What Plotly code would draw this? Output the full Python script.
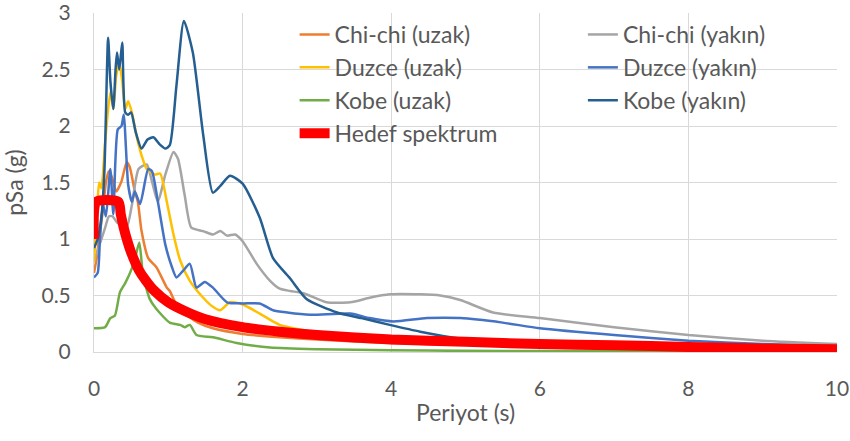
import plotly.graph_objects as go

# ---- Data ----
chichi_uzak_T = [0, 0.04, 0.08, 0.12, 0.16, 0.2, 0.24, 0.3, 0.37, 0.44, 0.48, 0.55, 0.59, 0.64, 0.73, 0.84, 0.98, 1.02, 1.11, 1.25, 1.4, 1.6, 2.0, 2.5, 3.0, 4.0, 5.0, 6.0, 7.0, 8.0, 9.0, 10.0]
chichi_uzak_y = [0.70, 0.85, 1.07, 1.25, 1.50, 1.60, 1.55, 1.42, 1.51, 1.68, 1.64, 1.42, 1.33, 1.07, 0.83, 0.75, 0.57, 0.54, 0.42, 0.33, 0.26, 0.21, 0.16, 0.13, 0.11, 0.08, 0.065, 0.06, 0.055, 0.05, 0.045, 0.04]

chichi_yakin_T = [0, 0.05, 0.1, 0.15, 0.2, 0.25, 0.32, 0.38, 0.44, 0.51, 0.6, 0.71, 0.78, 0.86, 0.96, 1.07, 1.13, 1.22, 1.31, 1.47, 1.6, 1.7, 1.79, 1.9, 2.0, 2.19, 2.37, 2.5, 2.64, 2.82, 3.13, 3.45, 3.71, 3.98, 4.39, 4.66, 4.93, 5.37, 6.0, 7.0, 8.0, 9.0, 10.0]
chichi_yakin_y = [0.80, 0.90, 1.00, 1.10, 1.20, 1.20, 1.14, 1.15, 1.10, 1.30, 1.62, 1.66, 1.51, 1.33, 1.57, 1.77, 1.71, 1.39, 1.10, 1.07, 1.04, 1.07, 1.03, 1.04, 0.98, 0.78, 0.63, 0.56, 0.54, 0.52, 0.44, 0.44, 0.48, 0.51, 0.51, 0.50, 0.46, 0.35, 0.30, 0.22, 0.15, 0.10, 0.07]

duzce_uzak_T = [0, 0.04, 0.07, 0.1, 0.15, 0.22, 0.26, 0.3, 0.34, 0.38, 0.42, 0.46, 0.51, 0.57, 0.64, 0.71, 0.82, 0.89, 0.98, 1.07, 1.16, 1.29, 1.47, 1.6, 1.7, 1.83, 2.0, 2.23, 2.41, 2.5, 3.0, 3.5, 4.0, 5.0, 6.0, 7.0, 8.0, 9.0, 10.0]
duzce_uzak_y = [0.80, 1.25, 1.50, 1.45, 1.86, 2.30, 2.15, 2.45, 2.55, 2.40, 2.15, 2.22, 2.12, 1.92, 1.74, 1.62, 1.57, 1.58, 1.33, 1.04, 0.81, 0.63, 0.48, 0.40, 0.37, 0.44, 0.42, 0.34, 0.27, 0.24, 0.17, 0.15, 0.13, 0.10, 0.08, 0.06, 0.05, 0.045, 0.04]

duzce_yakin_T = [0, 0.05, 0.08, 0.12, 0.16, 0.22, 0.26, 0.32, 0.37, 0.40, 0.46, 0.51, 0.55, 0.62, 0.73, 0.78, 0.86, 0.96, 1.05, 1.11, 1.2, 1.29, 1.38, 1.49, 1.6, 1.79, 2.0, 2.23, 2.41, 2.6, 2.91, 3.45, 3.71, 4.03, 4.48, 4.93, 5.5, 6.0, 7.0, 8.0, 9.0, 10.0]
duzce_yakin_y = [0.66, 0.70, 1.00, 1.30, 1.20, 1.62, 1.22, 1.97, 2.00, 2.10, 1.48, 1.33, 1.42, 1.31, 1.62, 1.60, 1.33, 0.95, 0.75, 0.66, 0.72, 0.78, 0.57, 0.62, 0.57, 0.44, 0.43, 0.43, 0.37, 0.35, 0.33, 0.34, 0.30, 0.27, 0.30, 0.30, 0.26, 0.21, 0.15, 0.10, 0.07, 0.05]

kobe_uzak_T = [0, 0.15, 0.22, 0.28, 0.35, 0.42, 0.51, 0.56, 0.61, 0.66, 0.75, 0.84, 1.02, 1.16, 1.22, 1.29, 1.38, 1.6, 1.92, 2.37, 3.0, 4.0, 5.0, 6.0, 8.0, 10.0]
kobe_uzak_y = [0.21, 0.22, 0.30, 0.32, 0.53, 0.61, 0.74, 0.85, 0.97, 0.68, 0.47, 0.38, 0.26, 0.24, 0.22, 0.24, 0.15, 0.13, 0.08, 0.04, 0.025, 0.015, 0.01, 0.008, 0.006, 0.005]

kobe_yakin_T = [0, 0.05, 0.1, 0.14, 0.19, 0.22, 0.26, 0.29, 0.31, 0.34, 0.38, 0.42, 0.46, 0.5, 0.56, 0.64, 0.72, 0.8, 0.88, 0.96, 1.02, 1.11, 1.21, 1.33, 1.47, 1.6, 1.7, 1.83, 2.0, 2.23, 2.41, 2.64, 2.86, 3.27, 3.6, 3.98, 4.39, 4.93, 5.5, 6.0, 7.0, 8.0, 9.0, 10.0]
kobe_yakin_y = [0.92, 1.00, 1.20, 1.60, 2.78, 2.40, 2.15, 2.50, 2.65, 2.50, 2.74, 2.12, 2.10, 2.12, 1.95, 1.80, 1.88, 1.90, 1.84, 1.80, 1.83, 2.36, 2.93, 2.65, 1.92, 1.41, 1.47, 1.56, 1.49, 1.19, 0.83, 0.65, 0.47, 0.35, 0.30, 0.24, 0.18, 0.12, 0.09, 0.07, 0.05, 0.04, 0.03, 0.03]

hedef_T = [0, 0.03, 0.33, 0.36, 0.4, 0.45, 0.5, 0.6, 0.7, 0.8, 1.0, 1.2, 1.5, 2.0, 2.5, 3.0, 4.0, 5.0, 6.0, 7.0, 8.0, 9.0, 10.0]
hedef_y = [1.0, 1.33, 1.33, 1.22, 1.10, 0.98, 0.88, 0.73, 0.63, 0.55, 0.44, 0.37, 0.29, 0.22, 0.18, 0.15, 0.11, 0.09, 0.07, 0.06, 0.045, 0.03, 0.025]

x_ticks = [0, 2, 4, 6, 8, 10]
y_ticks = [0, 0.5, 1, 1.5, 2, 2.5, 3]
y_ticktext = ["0", "0.5", "1", "1.5", "2", "2.5", "3"]

FONT = "Lato"
FS = 23
TICK_FS = 21
TXT = "#595959"
GRID = "#d9d9d9"

series = [
    ("Chi-chi (uzak)", chichi_uzak_T, chichi_uzak_y, "#ED7D31", 2.5, "legend"),
    ("Chi-chi (yakın)", chichi_yakin_T, chichi_yakin_y, "#A5A5A5", 2.5, "legend2"),
    ("Duzce (uzak)", duzce_uzak_T, duzce_uzak_y, "#FFC000", 2.5, "legend"),
    ("Duzce (yakın)", duzce_yakin_T, duzce_yakin_y, "#4472C4", 2.5, "legend2"),
    ("Kobe (uzak)", kobe_uzak_T, kobe_uzak_y, "#70AD47", 2.5, "legend"),
    ("Kobe (yakın)", kobe_yakin_T, kobe_yakin_y, "#255E91", 2.5, "legend2"),
    ("Hedef spektrum", hedef_T, hedef_y, "#FF0000", 10, "legend"),
]

fig = go.Figure()
for name, xs, ys, col, w, lg in series:
    fig.add_trace(go.Scatter(
        x=xs, y=ys, name=name, mode="lines",
        line=dict(color=col, width=w, shape="spline", smoothing=0.6),
        legend=lg,
    ))

leg_common = dict(
    font=dict(family=FONT, size=FS, color=TXT),
    bgcolor="rgba(0,0,0,0)", borderwidth=0,
    xanchor="left", yanchor="top", orientation="v",
    traceorder="normal",
)

fig.update_layout(
    width=850, height=441,
    margin=dict(l=94, r=13, t=13, b=89),
    paper_bgcolor="white", plot_bgcolor="white",
    font=dict(family=FONT, size=FS, color=TXT),
    showlegend=True,
    legend=dict(x=0.270, y=1.0, **leg_common),
    legend2=dict(x=0.658, y=1.0, **leg_common),
    xaxis=dict(
        range=[0, 10.0001], tickvals=x_ticks, ticktext=[str(v) for v in x_ticks],
        showgrid=True, gridcolor=GRID, gridwidth=1,
        showline=True, linecolor=GRID, linewidth=1,
        zeroline=False, ticks="", ticklabelstandoff=18, automargin=False,
        ticklabeloverflow="allow",
        title=dict(text="Periyot (s)", font=dict(family=FONT, size=FS, color=TXT), standoff=5),
        tickfont=dict(family=FONT, size=TICK_FS, color=TXT),
    ),
    yaxis=dict(
        range=[0, 3.0001], tickvals=y_ticks, ticktext=y_ticktext,
        showgrid=True, gridcolor=GRID, gridwidth=1,
        showline=True, linecolor=GRID, linewidth=1,
        zeroline=False, ticks="", ticklabelstandoff=18, automargin=False,
        ticklabeloverflow="allow",
        title=dict(text="pSa (g)", font=dict(family=FONT, size=FS, color=TXT), standoff=12),
        tickfont=dict(family=FONT, size=TICK_FS, color=TXT),
    ),
)

fig.write_html("out.html", config={"displayModeBar": False},
               post_script="document.body.style.margin='0px';")
